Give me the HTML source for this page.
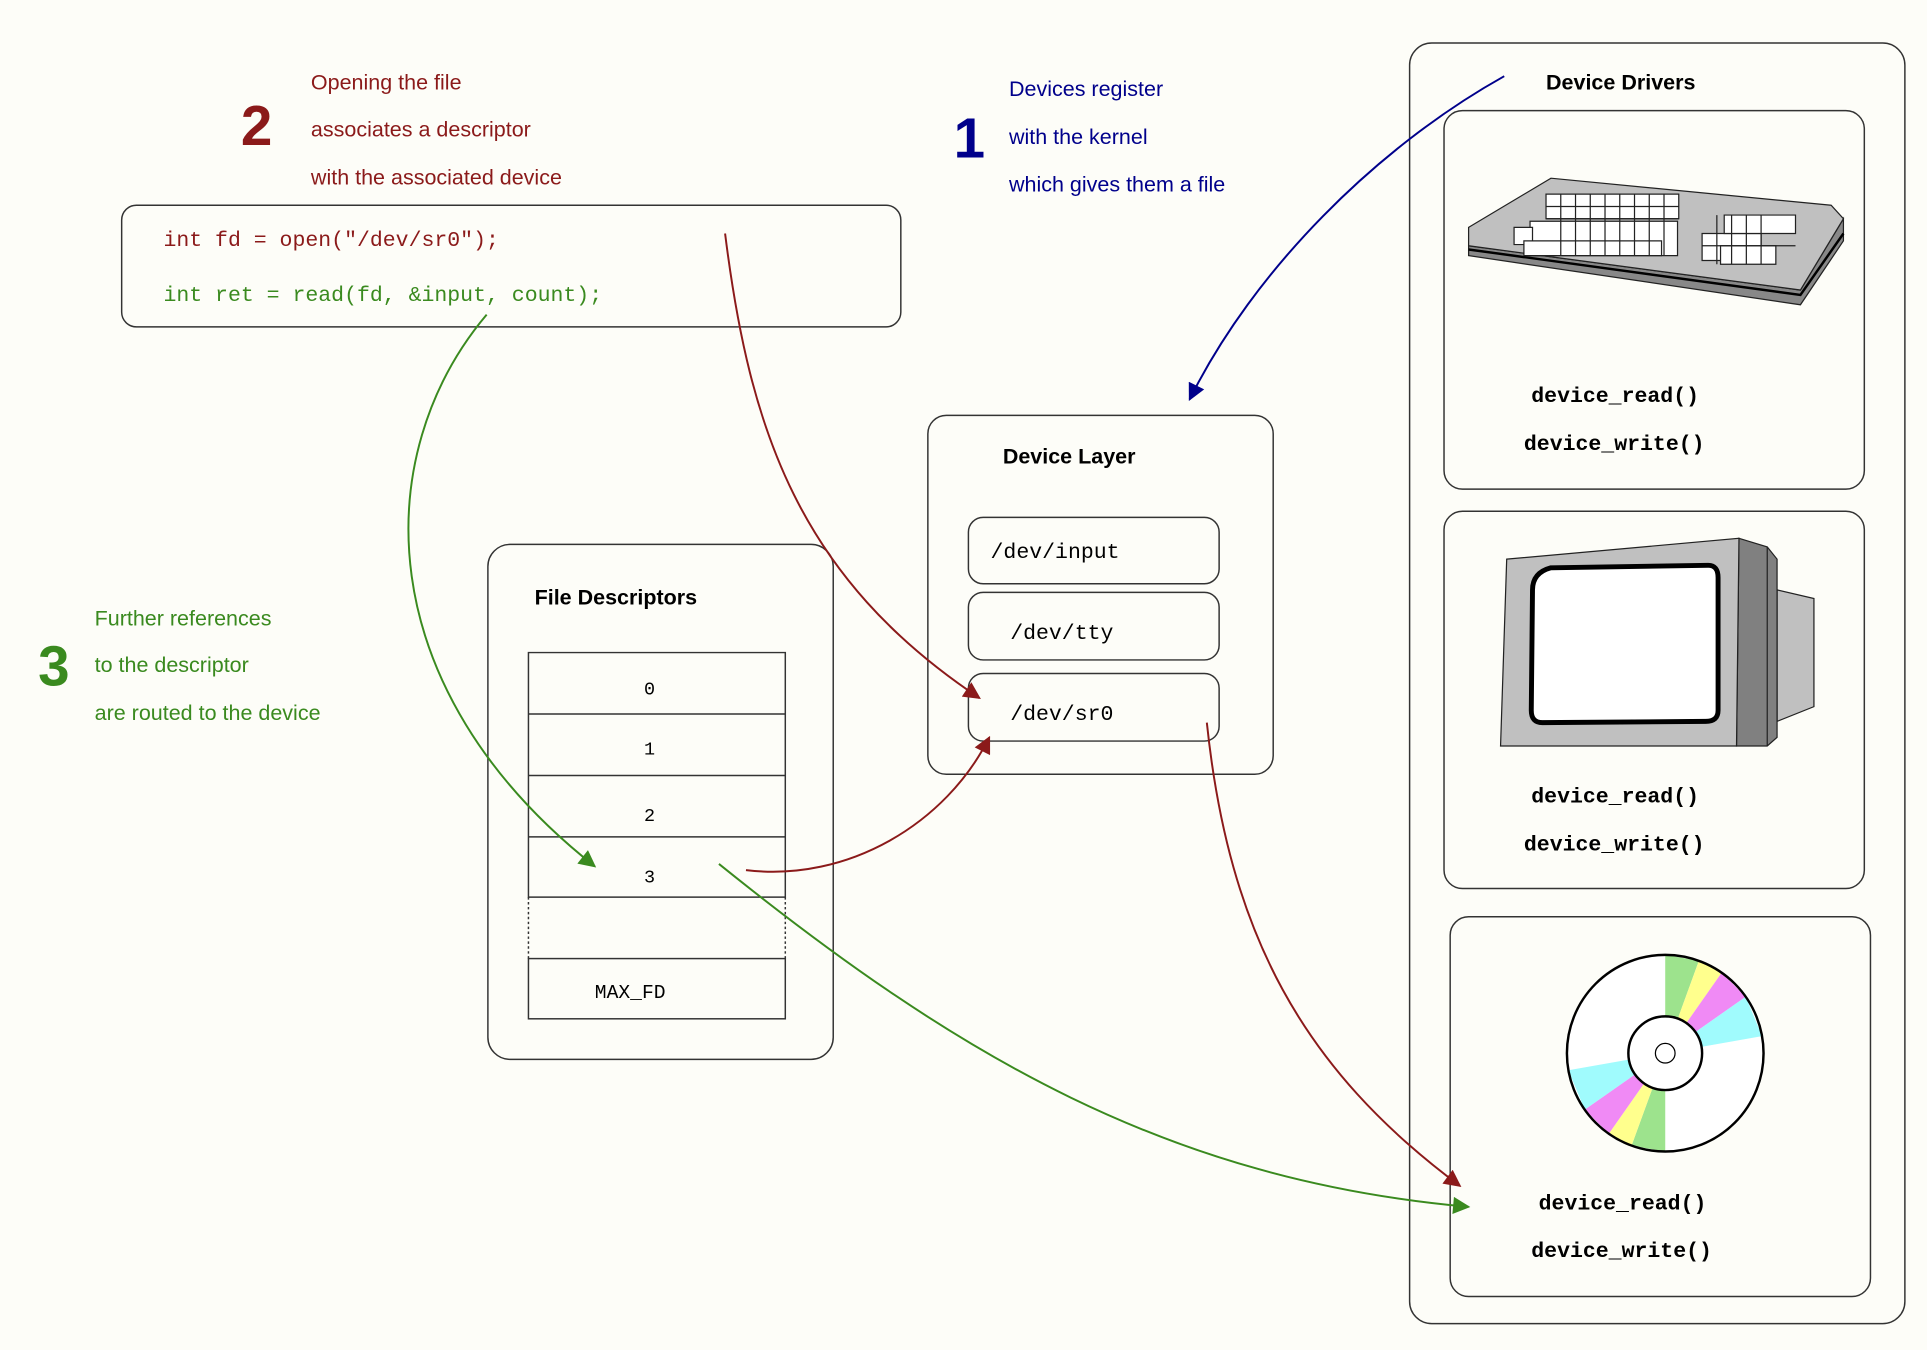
<!DOCTYPE html>
<html><head><meta charset="utf-8"><style>
html,body{margin:0;padding:0;background:#fdfdf8;}
svg{display:block}
.s{font-family:"Liberation Sans",sans-serif;}
.m{font-family:"Liberation Mono",monospace;}
</style></head><body>
<svg width="1927" height="1350" viewBox="0 0 1568 1098.5" preserveAspectRatio="none" xmlns="http://www.w3.org/2000/svg">
<defs>
<marker id="ar" viewBox="0 0 10 10" refX="9" refY="5" markerWidth="18" markerHeight="14" orient="auto" markerUnits="userSpaceOnUse"><path d="M0,0 L10,5 L0,10 z" fill="#8b1a1a"/></marker>
<marker id="ag" viewBox="0 0 10 10" refX="9" refY="5" markerWidth="18" markerHeight="14" orient="auto" markerUnits="userSpaceOnUse"><path d="M0,0 L10,5 L0,10 z" fill="#3a8a1f"/></marker>
<marker id="ab" viewBox="0 0 10 10" refX="9" refY="5" markerWidth="18" markerHeight="14" orient="auto" markerUnits="userSpaceOnUse"><path d="M0,0 L10,5 L0,10 z" fill="#00008b"/></marker>
</defs>
<rect width="1568" height="1098.5" fill="#fdfdf8"/>
<g fill="none" stroke="#333" stroke-width="1.2">
<rect x="1147" y="35" width="403" height="1042" rx="18"/>
<rect x="1175" y="90" width="342" height="308" rx="15"/>
<rect x="1175" y="416" width="342" height="307" rx="15"/>
<rect x="1180" y="746" width="342" height="309" rx="15"/>
<rect x="755" y="338" width="281" height="292" rx="15"/>
<rect x="788" y="421" width="204" height="54" rx="12"/>
<rect x="788" y="482" width="204" height="55" rx="12"/>
<rect x="788" y="548" width="204" height="55" rx="12"/>
<rect x="397" y="443" width="281" height="419" rx="18"/>
<rect x="99" y="167" width="634" height="99" rx="12"/>
<path d="M430,531 H639 V730 H430 Z M430,581 H639 M430,631 H639 M430,681 H639"/>
<path d="M430,730 V780 M639,730 V780" stroke-dasharray="2,2"/>
<rect x="430" y="780" width="209" height="49"/>
</g>
<!-- keyboard -->
<g stroke="#222" stroke-width="1">
<path d="M1195,200 L1195,208 L1465,248 L1500,196 L1500,178 L1465,236 Z" fill="#888"/>
<path d="M1195,203 L1465,240 L1500,190" fill="none" stroke="#000" stroke-width="2"/>
<path d="M1195,185 L1262,145 L1490,167 L1500,178 L1465,236 L1195,200 Z" fill="#c0c0c0"/>
<g fill="#fff">
<path d="M1245,180h120v28h-120z"/><path d="M1258,158h108v20h-108z"/>
<path d="M1232,185h15v14h-15z"/><path d="M1240,196h112v12h-112z"/>
<path d="M1385,190h48v22h-48z"/><path d="M1403,175h58v15h-58z"/><path d="M1400,200h45v15h-45z"/>
</g>
<path d="M1258,168h108 M1258,178h108 M1270,158v50 M1282,158v50 M1294,158v50 M1306,158v50 M1318,158v50 M1330,158v50 M1342,158v50 M1354,158v50 M1397,175v40 M1409,175v40 M1421,175v40 M1433,175v40 M1385,200h76" fill="none"/>
</g>
<!-- monitor -->
<g stroke="#222" stroke-width="1">
<path d="M1446,480 L1476,487 L1476,575 L1446,587 Z" fill="#c0c0c0"/>
<path d="M1415,438 L1438,445 L1446,455 L1446,600 L1438,607 L1413,607 Z" fill="#808080"/>
<path d="M1438,445 L1438,607" fill="none"/>
<path d="M1226,455 L1415,438 L1413,607 L1221,607 Z" fill="#c0c0c0"/>
<path d="M1262,462 L1390,460 Q1398,460 1398,470 L1398,578 Q1398,587 1388,587 L1255,588 Q1246,588 1246,578 L1247,480 Q1247,466 1262,462 Z" fill="#fff" stroke="#000" stroke-width="4"/>
</g>
<!-- CD -->
<g>
<circle cx="1355" cy="857" r="80" fill="#fff"/>
<path d="M1355,857 L1355,777 L1382.4,781.8 Z" fill="#9de38d"/>
<path d="M1355,857 L1382.4,781.8 L1400.9,791.5 Z" fill="#ffff8d"/>
<path d="M1355,857 L1400.9,791.5 L1420.5,811.1 Z" fill="#f08af5"/>
<path d="M1355,857 L1420.5,811.1 L1433.8,843.1 Z" fill="#a0fbfd"/>
<path d="M1355,857 L1355,937 L1327.6,932.2 Z" fill="#9de38d"/>
<path d="M1355,857 L1327.6,932.2 L1309.1,922.5 Z" fill="#ffff8d"/>
<path d="M1355,857 L1309.1,922.5 L1289.5,902.9 Z" fill="#f08af5"/>
<path d="M1355,857 L1289.5,902.9 L1276.2,870.9 Z" fill="#a0fbfd"/>
<circle cx="1355" cy="857" r="80" fill="none" stroke="#000" stroke-width="2"/>
<circle cx="1355" cy="857" r="30" fill="#fff" stroke="#000" stroke-width="2"/>
<circle cx="1355" cy="857" r="8" fill="#fff" stroke="#000" stroke-width="1"/>
</g>
<!-- texts -->
<g class="s" font-size="17.5">
<text x="1258" y="73" font-weight="bold" font-size="17.5">Device Drivers</text>
<text x="816" y="377" font-weight="bold" font-size="17.5">Device Layer</text>
<text x="435" y="492" font-weight="bold" font-size="17.5">File Descriptors</text>
<g fill="#8b1a1a"><text x="196" y="118" font-size="46" font-weight="bold">2</text>
<text x="253" y="73">Opening the file</text><text x="253" y="111">associates a descriptor</text><text x="253" y="150">with the associated device</text></g>
<g fill="#00008b"><text x="776" y="128" font-size="46" font-weight="bold">1</text>
<text x="821" y="78">Devices register</text><text x="821" y="117">with the kernel</text><text x="821" y="156">which gives them a file</text></g>
<g fill="#3a8a1f"><text x="31" y="558" font-size="46" font-weight="bold">3</text>
<text x="77" y="509">Further references</text><text x="77" y="547">to the descriptor</text><text x="77" y="586">are routed to the device</text></g>
</g>
<g class="m" font-size="17.5">
<text x="133" y="200" fill="#8b1a1a">int fd = open("/dev/sr0");</text>
<text x="133" y="245" fill="#3a8a1f">int ret = read(fd, &amp;input, count);</text>
<text x="806" y="454">/dev/input</text>
<text x="822" y="520">/dev/tty</text>
<text x="822" y="586">/dev/sr0</text>
<text x="524" y="565" font-size="15">0</text>
<text x="524" y="614" font-size="15">1</text>
<text x="524" y="668" font-size="15">2</text>
<text x="524" y="718" font-size="15">3</text>
<text x="484" y="812" font-size="16">MAX_FD</text>
<g font-weight="bold" font-size="17.5">
<text x="1246" y="327">device_read()</text><text x="1240" y="366">device_write()</text>
<text x="1246" y="653">device_read()</text><text x="1240" y="692">device_write()</text>
<text x="1252" y="984">device_read()</text><text x="1246" y="1023">device_write()</text>
</g>
</g>
<!-- connectors -->
<g fill="none" stroke-width="1.6">
<path d="M1224,62 C1120,120 1020,220 968,325" stroke="#00008b" marker-end="url(#ab)"/>
<path d="M590,190 C610,350 650,470 797,568" stroke="#8b1a1a" marker-end="url(#ar)"/>
<path d="M607,708 C690,718 770,670 805,600" stroke="#8b1a1a" marker-end="url(#ar)"/>
<path d="M982,588 C1000,760 1060,870 1188,965" stroke="#8b1a1a" marker-end="url(#ar)"/>
<path d="M396,256 C300,370 300,560 484,705" stroke="#3a8a1f" marker-end="url(#ag)"/>
<path d="M585,703 C780,860 950,960 1195,982" stroke="#3a8a1f" marker-end="url(#ag)"/>
</g>
</svg>
</body></html>
